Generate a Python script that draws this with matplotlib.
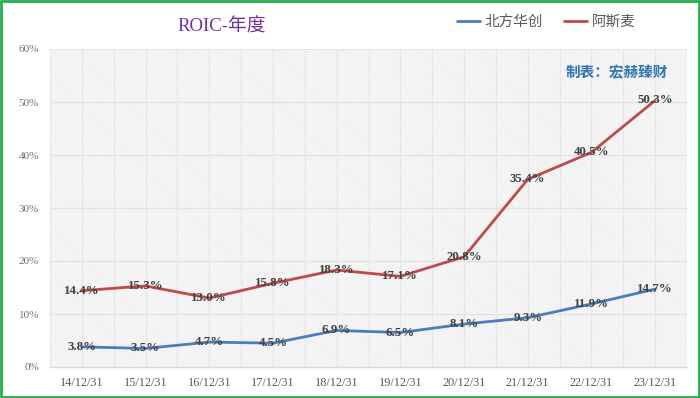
import matplotlib
matplotlib.use("Agg")
import matplotlib.pyplot as plt
from matplotlib.patches import Rectangle
from matplotlib.ticker import MultipleLocator, FuncFormatter

categories = ["14/12/31", "15/12/31", "16/12/31", "17/12/31", "18/12/31",
              "19/12/31", "20/12/31", "21/12/31", "22/12/31", "23/12/31"]
naura = [3.8, 3.5, 4.7, 4.5, 6.9, 6.5, 8.1, 9.3, 11.9, 14.7]
asml = [14.4, 15.3, 13.0, 15.8, 18.3, 17.1, 20.8, 35.4, 40.5, 50.3]
series_names = ["北方华创", "阿斯麦"]

SERIF = ["Liberation Serif", "Noto Sans CJK SC"]
plt.rcParams["hatch.linewidth"] = 0.5
plt.rcParams["hatch.color"] = "#e4e4e4"

fig = plt.figure(figsize=(7.0, 3.98), dpi=100)
ax = fig.add_axes([50/700, 1-367/398, 637/700, 318/398])

# hatched plot-area background
bg = Rectangle((0, 0), 1, 1, transform=ax.transAxes, facecolor="white",
               edgecolor="#e4e4e4", hatch="\\" * 14, lw=0, zorder=0)
ax.add_patch(bg)
ax.set_facecolor("white")

x = list(range(len(categories)))
blue = "#4a7ebb"
red = "#be4b48"
l1, = ax.plot(x, naura, color=blue, lw=2.0, zorder=3, solid_capstyle="round")
l2, = ax.plot(x, asml, color=red, lw=2.0, zorder=3, solid_capstyle="round")

for xi, v in zip(x, naura):
    ax.text(xi, v, f"{v:.1f}%", ha="center", va="center", fontsize=9.3,
            fontweight="bold", family=SERIF, color="#404040", zorder=4)
for xi, v in zip(x, asml):
    ax.text(xi, v, f"{v:.1f}%", ha="center", va="center", fontsize=9.3,
            fontweight="bold", family=SERIF, color="#404040", zorder=4)

ax.set_xlim(-0.5, len(categories) - 0.5)
ax.set_ylim(0, 60)
ax.yaxis.set_major_locator(MultipleLocator(10))
ax.yaxis.set_major_formatter(FuncFormatter(lambda v, p: f"{v:.0f}%"))
ax.set_xticks(x)
ax.set_xticklabels(categories)

# gridlines
for gx in [i * 0.5 - 0.5 for i in range(2 * len(categories) + 1)]:
    ax.axvline(gx, color="#e6e6e6", lw=0.9, zorder=1)
for gy in range(10, 61, 10):
    ax.axhline(gy, color="#e2e2e2", lw=0.9, zorder=1)

for s in ["top", "right", "left"]:
    ax.spines[s].set_visible(False)
ax.spines["bottom"].set_color("#d9d9d9")
ax.spines["bottom"].set_linewidth(1.0)
ax.spines["bottom"].set_zorder(2)

ax.tick_params(axis="y", length=0, labelsize=8, labelcolor="#707070", pad=8)
ax.tick_params(axis="x", length=0, labelsize=8.8, labelcolor="#595959", pad=7)
for lab in ax.get_yticklabels() + ax.get_xticklabels():
    lab.set_family(SERIF)

# title
fig.text(222/700, 1-27/398, "ROIC-年度", ha="center", va="center",
         fontsize=13.5, color="#7030a0", family=SERIF)

# source note
fig.text(617/700, 1-72/398, "制表：宏赫臻财", ha="center", va="center",
         fontsize=10.5, color="#2e75b6", fontweight="bold",
         family=["Noto Sans CJK SC", "DejaVu Sans"])

# legend
fig.legend([l1, l2], series_names, loc="center", bbox_to_anchor=(546/700, 1-22/398),
           ncol=2, frameon=False, handlelength=1.6, handletextpad=0.3,
           columnspacing=1.45, prop={"family": ["Noto Sans CJK SC", "DejaVu Sans"], "size": 10.5},
           labelcolor="#595959")

# green border around the whole figure
fig.patches.append(Rectangle((0.0015, 0.0025), 0.997, 0.995, transform=fig.transFigure,
                             fill=False, edgecolor="#1fb24a", lw=2.0, zorder=10))

fig.savefig("out.png", dpi=100, facecolor="white")
